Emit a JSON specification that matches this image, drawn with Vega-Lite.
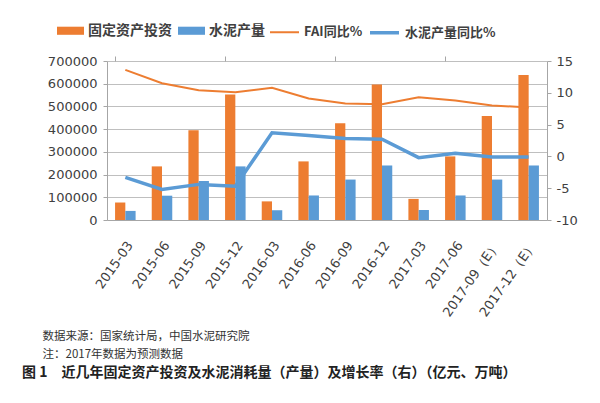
{
  "$schema": "https://vega.github.io/schema/vega-lite/v6.json",
  "width": 440,
  "height": 159,
  "autosize": {"type": "none"},
  "padding": {"left": 107, "top": 61, "right": 53, "bottom": 183},
  "background": "white",
  "config": {"view": {"stroke": null}, "font": "Noto Sans CJK SC"},
  "datasets": {
    "bars": [
      {"q": "2015-03", "series": "固定资产投资", "value": 77000},
      {"q": "2015-03", "series": "水泥产量", "value": 40000},
      {"q": "2015-06", "series": "固定资产投资", "value": 236000},
      {"q": "2015-06", "series": "水泥产量", "value": 107000},
      {"q": "2015-09", "series": "固定资产投资", "value": 395000},
      {"q": "2015-09", "series": "水泥产量", "value": 172000},
      {"q": "2015-12", "series": "固定资产投资", "value": 552000},
      {"q": "2015-12", "series": "水泥产量", "value": 236000},
      {"q": "2016-03", "series": "固定资产投资", "value": 82000},
      {"q": "2016-03", "series": "水泥产量", "value": 43000},
      {"q": "2016-06", "series": "固定资产投资", "value": 258000},
      {"q": "2016-06", "series": "水泥产量", "value": 108000},
      {"q": "2016-09", "series": "固定资产投资", "value": 426000},
      {"q": "2016-09", "series": "水泥产量", "value": 178000},
      {"q": "2016-12", "series": "固定资产投资", "value": 596000},
      {"q": "2016-12", "series": "水泥产量", "value": 240000},
      {"q": "2017-03", "series": "固定资产投资", "value": 93000},
      {"q": "2017-03", "series": "水泥产量", "value": 44000},
      {"q": "2017-06", "series": "固定资产投资", "value": 280000},
      {"q": "2017-06", "series": "水泥产量", "value": 108000},
      {"q": "2017-09（E）", "series": "固定资产投资", "value": 458000},
      {"q": "2017-09（E）", "series": "水泥产量", "value": 178000},
      {"q": "2017-12（E）", "series": "固定资产投资", "value": 638000},
      {"q": "2017-12（E）", "series": "水泥产量", "value": 240000}
    ],
    "lines": [
      {"q": "2015-03", "series": "FAI同比%", "pct": 13.6},
      {"q": "2015-06", "series": "FAI同比%", "pct": 11.5},
      {"q": "2015-09", "series": "FAI同比%", "pct": 10.4},
      {"q": "2015-12", "series": "FAI同比%", "pct": 10.1},
      {"q": "2016-03", "series": "FAI同比%", "pct": 10.8},
      {"q": "2016-06", "series": "FAI同比%", "pct": 9.1},
      {"q": "2016-09", "series": "FAI同比%", "pct": 8.3},
      {"q": "2016-12", "series": "FAI同比%", "pct": 8.2},
      {"q": "2017-03", "series": "FAI同比%", "pct": 9.3},
      {"q": "2017-06", "series": "FAI同比%", "pct": 8.8},
      {"q": "2017-09（E）", "series": "FAI同比%", "pct": 8.0},
      {"q": "2017-12（E）", "series": "FAI同比%", "pct": 7.7},
      {"q": "2015-03", "series": "水泥产量同比%", "pct": -3.3},
      {"q": "2015-06", "series": "水泥产量同比%", "pct": -5.2},
      {"q": "2015-09", "series": "水泥产量同比%", "pct": -4.4},
      {"q": "2015-12", "series": "水泥产量同比%", "pct": -4.7},
      {"q": "2016-03", "series": "水泥产量同比%", "pct": 3.7},
      {"q": "2016-06", "series": "水泥产量同比%", "pct": 3.3},
      {"q": "2016-09", "series": "水泥产量同比%", "pct": 2.8},
      {"q": "2016-12", "series": "水泥产量同比%", "pct": 2.7},
      {"q": "2017-03", "series": "水泥产量同比%", "pct": -0.2},
      {"q": "2017-06", "series": "水泥产量同比%", "pct": 0.5},
      {"q": "2017-09（E）", "series": "水泥产量同比%", "pct": -0.1},
      {"q": "2017-12（E）", "series": "水泥产量同比%", "pct": -0.1}
    ]
  },
  "title": {
    "text": "图 1　近几年固定资产投资及水泥消耗量（产量）及增长率（右）（亿元、万吨）",
    "orient": "bottom",
    "anchor": "start",
    "frame": "group",
    "dx": -85,
    "offset": 6,
    "font": "Noto Sans CJK SC",
    "fontSize": 14,
    "fontWeight": "bold",
    "color": "#222222"
  },
  "layer": [
    {
      "data": {"name": "bars"},
      "mark": {"type": "bar"},
      "encoding": {
        "x": {
          "field": "q", "type": "nominal", "sort": null,
          "scale": {"domain": ["2015-03","2015-06","2015-09","2015-12","2016-03","2016-06","2016-09","2016-12","2017-03","2017-06","2017-09（E）","2017-12（E）"], "paddingInner": 0.44, "paddingOuter": 0.22},
          "axis": {
            "title": ["数据来源：国家统计局，中国水泥研究院", "注：2017年数据为预测数据"],
            "titleX": -65, "titleY": 110, "titleAlign": "left", "titleBaseline": "top", "titleAngle": 0,
            "titleFont": "Noto Sans CJK SC", "titleFontSize": 11.5, "titleFontWeight": "normal", "titleColor": "#333333", "titleLineHeight": 18,
            "labelAngle": -55, "labelFont": "DejaVu Sans", "labelFontSize": 13, "labelColor": "#404040", "ticks": false, "domainColor": "#A6A6A6", "labelPadding": 19, "labelAlign": "right", "labelBaseline": "top", "grid": false}
        },
        "xOffset": {"field": "series", "type": "nominal", "sort": ["固定资产投资", "水泥产量"], "scale": {"paddingInner": 0, "paddingOuter": 0}},
        "y": {
          "field": "value", "type": "quantitative",
          "scale": {"domain": [0, 700000], "nice": false, "zero": true},
          "axis": {"orient": "left", "title": null, "values": [0,100000,200000,300000,400000,500000,600000,700000], "format": "d", "grid": true, "gridColor": "#BFBFBF", "domainColor": "#A6A6A6", "tickColor": "#A6A6A6", "tickSize": 4, "labelFont": "DejaVu Sans", "labelFontSize": 13, "labelColor": "#404040", "labelPadding": 6}
        },
        "color": {
          "field": "series", "type": "nominal",
          "scale": {"domain": ["固定资产投资", "水泥产量"], "range": ["#ED7D31", "#5B9BD5"]},
          "legend": {"orient": "none", "legendX": -50, "legendY": -44, "direction": "horizontal", "title": null, "symbolType": "M-1,-0.3H1V0.3H-1Z", "symbolSize": 729, "symbolStrokeWidth": 0, "labelFont": "Noto Sans CJK SC", "labelFontSize": 14, "labelFontWeight": "bold", "labelColor": "#404040", "labelOffset": 4, "columnPadding": 6, "padding": 0}
        }
      }
    },
    {
      "data": {"name": "lines"},
      "mark": {"type": "line"},
      "encoding": {
        "x": {
          "field": "q", "type": "nominal", "sort": null,
          "scale": {"domain": ["2015-03","2015-06","2015-09","2015-12","2016-03","2016-06","2016-09","2016-12","2017-03","2017-06","2017-09（E）","2017-12（E）"], "paddingInner": 0.44, "paddingOuter": 0.22},
          "axis": {"title": null, "values": ["2015-03","2015-12","2016-09","2017-06"], "bandPosition": 0, "labels": false, "domain": false, "ticks": true, "tickSize": 5, "tickColor": "#A6A6A6", "grid": false}
        },
        "y": {
          "field": "pct", "type": "quantitative",
          "scale": {"domain": [-10, 15], "nice": false, "zero": false},
          "axis": {"orient": "right", "title": null, "values": [-10,-5,0,5,10,15], "labelExpr": "'' + datum.value", "grid": false, "domainColor": "#A6A6A6", "tickColor": "#A6A6A6", "tickSize": 4, "labelFont": "DejaVu Sans", "labelFontSize": 13, "labelColor": "#404040", "labelPadding": 5}
        },
        "stroke": {
          "field": "series", "type": "nominal",
          "scale": {"domain": ["FAI同比%", "水泥产量同比%"], "range": ["#ED7D31", "#5B9BD5"]},
          "legend": {"orient": "none", "legendX": 162, "legendY": -45, "direction": "horizontal", "title": null, "symbolType": "stroke", "symbolSize": 841, "symbolStrokeWidth": 2.5, "labelFont": "Noto Sans CJK SC", "labelFontSize": 13, "labelFontWeight": "bold", "labelColor": "#404040", "labelOffset": 4, "columnPadding": 0, "padding": 0}
        },
        "strokeWidth": {
          "field": "series", "type": "nominal",
          "scale": {"domain": ["FAI同比%", "水泥产量同比%"], "range": [2, 3.5]},
          "legend": null
        }
      }
    }
  ],
  "resolve": {"scale": {"y": "independent"}, "axis": {"x": "independent"}}
}
